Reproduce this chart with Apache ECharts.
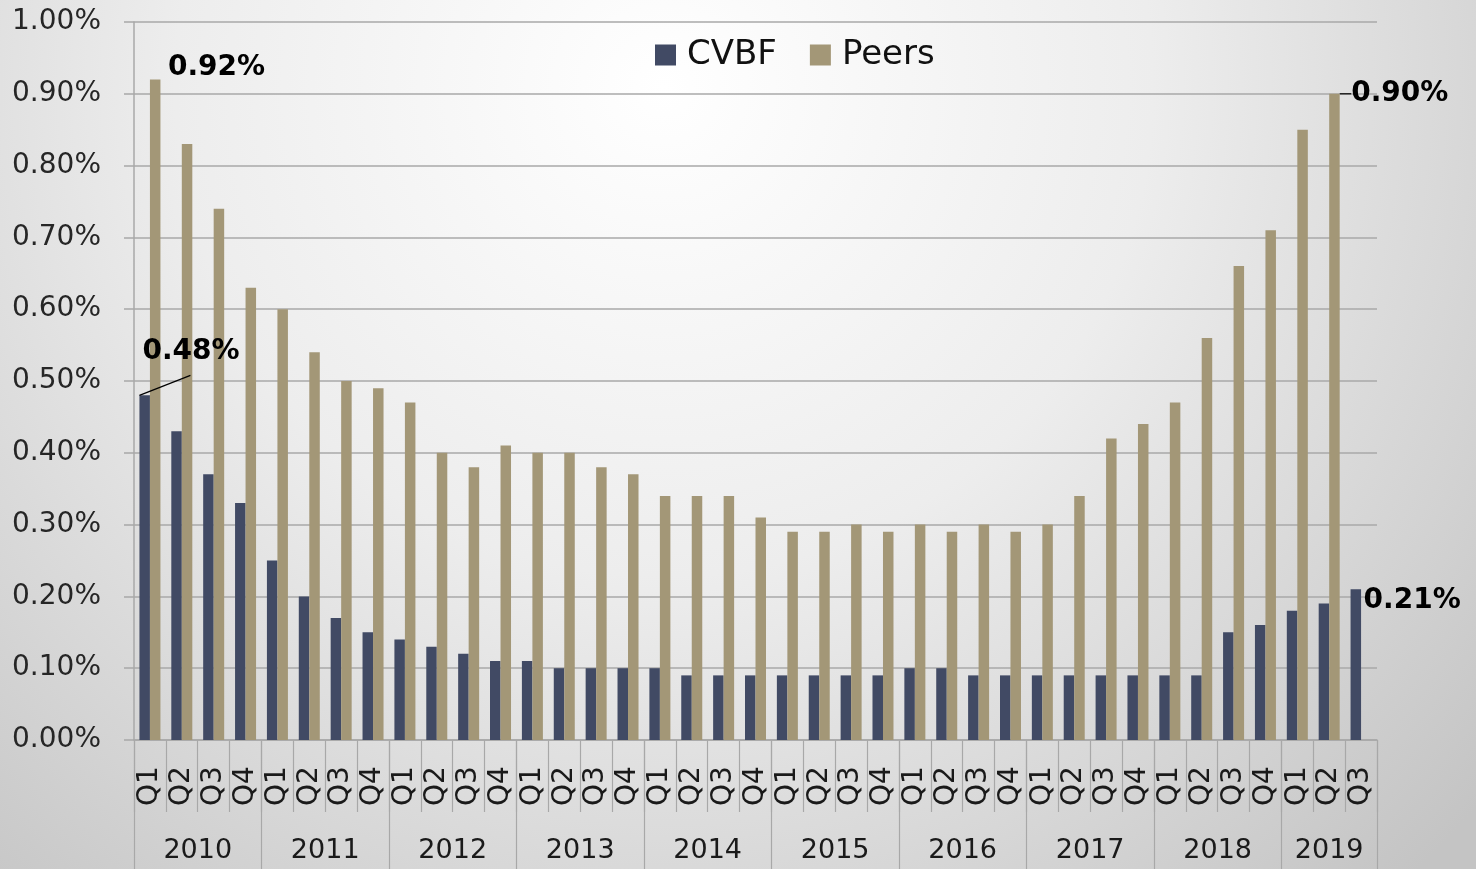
<!DOCTYPE html>
<html>
<head>
<meta charset="utf-8">
<script src="https://cdn.jsdelivr.net/npm/echarts@6/dist/echarts.min.js"></script>
<style>
html,body{margin:0;padding:0;width:1476px;height:869px;overflow:hidden;}
#chart{width:1476px;height:869px;}
</style>
</head>
<body>
<div id="chart"></div>
<script>
// ---- data ----
const years = ['2010','2011','2012','2013','2014','2015','2016','2017','2018','2019'];
const quartersPerYear = [4,4,4,4,4,4,4,4,4,3];
const quarterNames = ['Q1','Q2','Q3','Q4'];
const cvbf = [
  0.48,0.43,0.37,0.33,
  0.25,0.20,0.17,0.15,
  0.14,0.13,0.12,0.11,
  0.11,0.10,0.10,0.10,
  0.10,0.09,0.09,0.09,
  0.09,0.09,0.09,0.09,
  0.10,0.10,0.09,0.09,
  0.09,0.09,0.09,0.09,
  0.09,0.09,0.15,0.16,
  0.18,0.19,0.21
];
const peers = [
  0.92,0.83,0.74,0.63,
  0.60,0.54,0.50,0.49,
  0.47,0.40,0.38,0.41,
  0.40,0.40,0.38,0.37,
  0.34,0.34,0.34,0.31,
  0.29,0.29,0.30,0.29,
  0.30,0.29,0.30,0.29,
  0.30,0.34,0.42,0.44,
  0.47,0.56,0.66,0.71,
  0.85,0.90,null
];

// ---- derived ----
const categories = [];
const yearBounds = [0];
const yearCenters = [];
let pos = 0;
quartersPerYear.forEach((n) => {
  for (let q = 0; q < n; q++) categories.push(quarterNames[q]);
  yearCenters.push(pos + n / 2);
  pos += n;
  yearBounds.push(pos);
});

const FONT = 'DejaVu Sans';
const BAR_W = 10.5;
const labelStyle = {show:true, fontFamily:FONT, fontWeight:'bold', fontSize:28, color:'#000',
  align:'left', verticalAlign:'middle', formatter: p => p.value.toFixed(2) + '%'};

const lastCvbf = cvbf.length - 1;
let lastPeers = peers.length - 1;
while (peers[lastPeers] == null) lastPeers--;

const cvbfData = cvbf.map((v, i) => {
  if (i === 0) return {value:v, label:Object.assign({}, labelStyle, {position:[3,-44]})};
  if (i === lastCvbf) return {value:v, label:Object.assign({}, labelStyle, {position:[13,11]})};
  return v;
});
const peersData = peers.map((v, i) => {
  if (i === 0) return {value:v, label:Object.assign({}, labelStyle, {position:[18,-12]})};
  if (i === lastPeers) return {value:v, label:Object.assign({}, labelStyle, {position:[22,0]}),
    labelLine:{show:true, lineStyle:{color:'#000', width:1.2}}};
  return v;
});

const gridColor = '#a8a8a8';
const chart = echarts.init(document.getElementById('chart'));
chart.setOption({
  animation:false,
  backgroundColor:{type:'radial', x:0.45, y:0.1, r:1.25,
    colorStops:[{offset:0,color:'#ffffff'},{offset:0.45,color:'#ededed'},{offset:1,color:'#c4c4c4'}]},
  textStyle:{fontFamily:FONT},
  legend:{
    left:650, top:33, itemWidth:21, itemHeight:21, itemGap:33,
    icon:'rect',
    textStyle:{fontFamily:FONT, fontSize:34, color:'#111', padding:[0,0,0,6]},
    data:['CVBF','Peers']
  },
  grid:{left:134, right:99, top:22, bottom:129},
  xAxis:[{
    type:'category', data:categories, position:'bottom',
    axisLine:{show:true, lineStyle:{color:gridColor, width:1.5}},
    axisTick:{show:true, interval:0, length:72, lineStyle:{color:gridColor, width:1.2}},
    axisLabel:{interval:0, rotate:90, align:'center', verticalAlign:'middle', margin:46,
      fontFamily:FONT, fontSize:28, color:'#1a1a1a'},
    splitLine:{show:false}
  },{
    type:'value', min:0, max:categories.length, position:'bottom',
    axisLine:{show:false},
    axisTick:{show:true, customValues:yearBounds, length:129, lineStyle:{color:gridColor, width:1.2}},
    axisLabel:{show:true, customValues:yearCenters, margin:97, fontFamily:FONT, fontSize:27, color:'#1a1a1a',
      formatter: v => { const k = yearCenters.findIndex(c => Math.abs(c - v) < 1e-6); return k >= 0 ? years[k] : ''; }},
    splitLine:{show:false}
  }],
  yAxis:{
    type:'value', min:0, max:1, interval:0.1,
    axisLine:{show:true, lineStyle:{color:gridColor, width:1.5}},
    axisTick:{show:true, length:10, lineStyle:{color:gridColor, width:1.5}},
    axisLabel:{margin:33, fontFamily:FONT, fontSize:28, color:'#262626',
      formatter: v => v.toFixed(2) + '%'},
    splitLine:{show:true, lineStyle:{color:gridColor, width:1.5}}
  },
  series:[{
    name:'CVBF', type:'bar', xAxisIndex:0, data:cvbfData,
    barWidth:BAR_W, barGap:'0%',
    itemStyle:{color:'#414a64'}
  },{
    name:'Peers', type:'bar', xAxisIndex:0, data:peersData,
    barWidth:BAR_W, barGap:'0%',
    itemStyle:{color:'#a39777'}
  }]
});

// leader line for the first CVBF label, anchored to the bar top through the chart's scales
const p0 = chart.convertToPixel({seriesIndex:0}, [0, cvbf[0]]);
const barLeft = p0[0] - BAR_W;
chart.setOption({
  graphic:[{
    type:'line', silent:true, z:100,
    shape:{x1:barLeft, y1:p0[1], x2:barLeft + 51, y2:p0[1] - 20},
    style:{stroke:'#000', lineWidth:1.2}
  }]
});
</script>
</body>
</html>
